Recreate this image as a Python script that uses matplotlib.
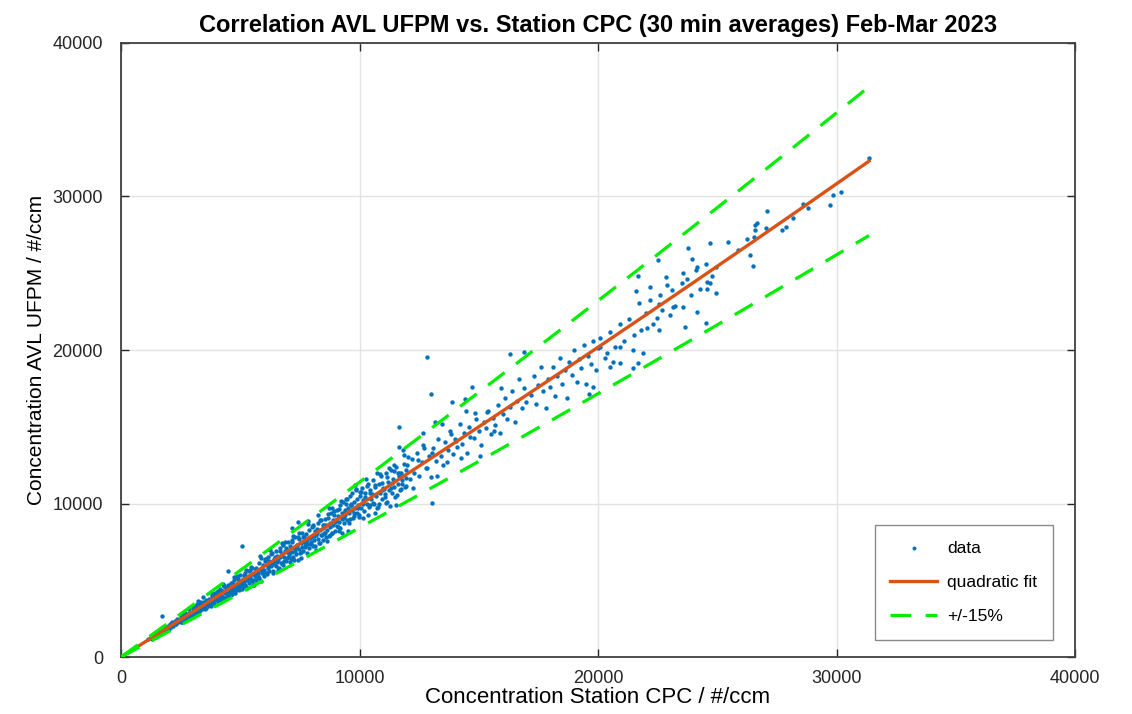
import matplotlib
matplotlib.use("Agg")
import matplotlib.pyplot as plt
import numpy as np

# AVL UFPM vs station CPC, 30 min averages (#/ccm)
station_cpc = [
    # 1000-3000
    1150, 1250, 1300, 1400, 1450, 1500, 1550, 1600, 1650, 1720, 1750, 1800, 1850,
    1900, 1950, 2000, 2050, 2100, 2150, 2200, 2250, 2300, 2350, 2400, 2450, 2500,
    2550, 2600, 2650, 2700, 2750, 2800, 2850, 2900, 2950, 3000, 3000,
    # 3000-6000
    3050, 3100, 3120, 3150, 3200, 3220, 3250, 3300, 3320, 3350, 3400, 3420, 3450,
    3480, 3500, 3550, 3580, 3600, 3650, 3680, 3700, 3750, 3780, 3800, 3850, 3880,
    3900, 3950, 3980, 4000, 4050, 4080, 4100, 4150, 4180, 4200, 4250, 4280, 4300,
    4350, 4380, 4400, 4450, 4480, 4500, 4550, 4580, 4600, 4650, 4680, 4700, 4750,
    4780, 4800, 4850, 4880, 4900, 4950, 4980, 5000, 5000, 5050, 5080, 5100, 5150,
    5180, 5200, 5250, 5280, 5300, 5350, 5380, 5400, 5450, 5480, 5500, 5550, 5580,
    5600, 5650, 5680, 5700, 5750, 5780, 5800, 5850, 5880, 5900, 5950, 5980,
    5070, 4490, 3230,
    # 6000-9000
    6000, 6050, 6080, 6100, 6150, 6180, 6200, 6250, 6280, 6300, 6350, 6380, 6400,
    6450, 6480, 6500, 6550, 6580, 6600, 6650, 6680, 6700, 6750, 6780, 6800, 6850,
    6880, 6900, 6950, 6980, 7000, 7050, 7080, 7100, 7150, 7180, 7200, 7250, 7280,
    7300, 7350, 7380, 7400, 7450, 7480, 7500, 7550, 7580, 7600, 7650, 7680, 7700,
    7750, 7780, 7800, 7850, 7880, 7900, 7950, 7980, 8000, 8050, 8080, 8100, 8150,
    8180, 8200, 8250, 8280, 8300, 8350, 8380, 8400, 8450, 8480, 8500, 8550, 8580,
    8600, 8650, 8680, 8700, 8750, 8780, 8800, 8850, 8880, 8900, 8950, 8980,
    7170, 7420,
    # 9000-12000
    9000, 9050, 9080, 9100, 9150, 9180, 9200, 9250, 9280, 9300, 9350, 9380, 9400,
    9450, 9480, 9500, 9550, 9580, 9600, 9650, 9680, 9700, 9750, 9780, 9800, 9850,
    9880, 9900, 9950, 9980, 10000, 10050, 10100, 10150, 10200, 10250, 10300, 10350,
    10400, 10450, 10500, 10550, 10600, 10650, 10700, 10750, 10800, 10850, 10900,
    10950, 11000, 11050, 11100, 11150, 11200, 11250, 11300, 11350, 11400, 11450,
    11500, 11550, 11600, 11650, 11700, 11750, 11800, 11850, 11900, 11950,
    11660, 11660, 12660, 13170, 13040,
    # 12000-16000
    12000, 12100, 12200, 12300, 12400, 12500, 12600, 12700, 12800, 12830, 12900,
    13000, 13000, 13100, 13200, 13300, 13400, 13500, 13600, 13700, 13800, 13900,
    14000, 14100, 14200, 14300, 14400, 14500, 14600, 14700, 14800, 14900, 15000,
    15100, 15200, 15300, 15400, 15500, 15600, 15700, 15800, 15900, 16000,
    13880, 14420,
    # 16000-20000
    16100, 16200, 16300, 16400, 16500, 16600, 16700, 16800, 16900, 17000, 16310,
    16900, 17200, 17300, 17400, 17500, 17600, 17700, 17800, 17900, 18000, 18100,
    18200, 18300, 18400, 18500, 18600, 18700, 18800, 18900, 19000, 19100, 19200,
    19300, 19400, 19500, 19600, 19700, 19800, 19900, 20000, 19790, 19620,
    # 20000-25000
    20100, 20300, 20500, 20700, 20900, 21100, 21300, 21500, 21594, 21678, 21720,
    21800, 22000, 22181, 22181, 22300, 22516, 22558, 22600, 22852, 22894, 23000,
    23104, 23229, 23523, 23565, 23565, 23648, 23733, 23774, 23900, 23942, 24110,
    24152, 24152, 24278, 24529, 24529, 24571, 24571, 24697, 24697, 24781, 24948,
    24948, 20085, 20923, 21468, 21888, 21678, 21468, 20630, 20923, 20378, 20504,
    22055, 22558, 22684, 22474, 23145,
    # 25000-31400
    25452, 25871, 26248, 26374, 26500, 26542, 26584, 26584, 26667, 27045, 27087,
    27716, 27883, 28177, 28596, 28806, 29728, 29855, 30190, 31364,
    # second pass over the dense band 2000-16000
    2130, 2270, 2380, 2520, 2630, 2760, 2870, 3030, 3140, 3270, 3390, 3460, 3530,
    3610, 3730, 3820, 3910, 4020, 4110, 4230, 4320, 4410, 4530, 4620, 4730, 4810,
    4920, 5030, 5120, 5230, 5330, 5420, 5530, 5640, 5720, 5830, 5920, 6030, 6130,
    6220, 6330, 6420, 6530, 6620, 6730, 6830, 6920, 7030, 7130, 7230, 7330, 7430,
    7530, 7630, 7730, 7830, 7930, 8030, 8130, 8230, 8330, 8430, 8530, 8630, 8730,
    8830, 8930, 9030, 9130, 9230, 9330, 9430, 9530, 9630, 9730, 9830, 9930, 10030,
    10130, 10230, 10330, 10430, 10530, 10630, 10730, 10830, 10930, 11030, 11130,
    11230, 11330, 11430, 11530, 11630, 11730, 11830, 11930, 12050, 12250, 12450,
    12650, 12850, 13050, 13250, 13450, 13650, 13850, 14050, 14250, 14450, 14650,
    14850, 15050, 15350, 15650, 15950,
    # third pass 3000-12000
    3080, 3180, 3290, 3370, 3440, 3570, 3660, 3760, 3860, 3960, 4060, 4160, 4260,
    4360, 4460, 4560, 4660, 4760, 4860, 4960, 5060, 5160, 5260, 5360, 5460, 5560,
    5660, 5760, 5860, 5960, 6060, 6160, 6260, 6360, 6460, 6560, 6660, 6760, 6860,
    6960, 7060, 7160, 7260, 7360, 7460, 7560, 7660, 7760, 7860, 7960, 8060, 8160,
    8260, 8360, 8460, 8560, 8660, 8760, 8860, 8960, 9060, 9160, 9260, 9360, 9460,
    9560, 9660, 9760, 9860, 9960, 10060, 10160, 10260, 10360, 10460, 10560, 10660,
    10760, 10860, 10960, 11060, 11160, 11260, 11360, 11460, 11560, 11660, 11760,
    11860, 11960,
]

avl_ufpm = [
    # 1000-3000
    1150, 1300, 1200, 1450, 1330, 1560, 1420, 1700, 1520, 2670, 1800, 1650, 1950,
    1780, 2050, 1850, 2150, 1960, 2300, 2000, 2350, 2120, 2500, 2250, 2330, 2600,
    2300, 2750, 2480, 2900, 2550, 2700, 3100, 2650, 2850, 3200, 2750,
    # 3000-6000
    3000, 3350, 2850, 3100, 3450, 2950, 3200, 3600, 3050, 3300, 3150, 3500, 3900,
    3250, 3400, 3700, 3200, 3550, 3350, 3800, 3500, 3650, 3300, 4000, 3600, 3850,
    3450, 4200, 3750, 3900, 3600, 4150, 3850, 4400, 3700, 4050, 4300, 3900, 4600,
    4150, 3850, 4400, 4200, 4700, 4000, 4450, 4250, 4850, 4100, 4550, 4350, 5000,
    4500, 4200, 4700, 5200, 4550, 4350, 4900, 4650, 5350, 4800, 4400, 5100, 4900,
    5500, 4700, 5200, 4500, 5000, 5600, 4850, 5300, 5100, 5800, 4950, 5400, 4700,
    5250, 5700, 5050, 5500, 5300, 6100, 5150, 5650, 4950, 5450, 6000, 5300,
    7230, 5600, 3650,
    # 6000-9000
    5700, 6250, 5500, 6000, 5800, 6500, 5600, 6150, 5900, 6700, 6050, 5500, 6400,
    6200, 6900, 5900, 6600, 6300, 5700, 6500, 7100, 6150, 6700, 6000, 7300, 6500,
    6900, 6250, 7000, 6450, 7500, 6700, 6200, 7200, 6850, 7600, 6500, 7100, 6900,
    7800, 6700, 7300, 6300, 7050, 7700, 6800, 7400, 7150, 8100, 6900, 7500, 7200,
    8000, 6800, 7600, 7350, 8300, 7100, 7800, 7500, 8500, 7250, 7900, 7600, 8200,
    7000, 8050, 7700, 8700, 7400, 8250, 7950, 8900, 7600, 8400, 8100, 9000, 7800,
    8600, 8300, 9300, 7900, 8700, 8450, 9400, 8100, 8900, 8600, 9500, 8200,
    8400, 8800,
    # 9000-12000
    8900, 9600, 8500, 9200, 8800, 9900, 8400, 9400, 9000, 10100, 8700, 9600, 9250,
    10300, 8900, 9700, 9400, 10500, 9000, 9900, 9550, 10700, 9200, 10100, 9700, 10900,
    9400, 10300, 9900, 9100, 10500, 9700, 11000, 10200, 9500, 10700, 10000, 11300,
    9800, 10900, 10300, 11500, 10000, 11100, 10500, 9700, 11300, 10700, 11800,
    10300, 11000, 10600, 12000, 10100, 11400, 10900, 12200, 10700, 11600, 11100,
    10400, 12400, 11300, 11800, 10900, 12000, 11500, 12600, 11100, 12200,
    14980, 13680, 14590, 15310, 10030,
    # 12000-16000
    12500, 11600, 12900, 12000, 13300, 11800, 12700, 13600, 12300, 19550, 13100,
    11700, 17130, 13600, 12800, 14200, 13100, 12500, 14000, 13500, 14700, 13200,
    14200, 13700, 15200, 13900, 14600, 13300, 15000, 17600, 14300, 15500, 14700,
    13800, 15300, 14900, 16000, 14500, 15600, 15100, 16400, 14600, 15800,
    16610, 16800,
    # 16000-20000
    16900, 15500, 16300, 17300, 15300, 16700, 18100, 16200, 17500, 16600, 19740,
    19870, 17100, 18300, 16500, 17700, 18900, 17300, 16200, 18100, 17600, 18900,
    17000, 18300, 19500, 17800, 18700, 16900, 19200, 18400, 20000, 17900, 19400,
    18800, 20300, 17800, 19600, 19100, 20600, 18700, 20100, 17590, 17130,
    # 20000-25000
    20800, 19500, 21200, 20200, 21700, 20600, 22000, 21000, 23845, 24822, 23063,
    21300, 22400, 24106, 23259, 21700, 25865, 22998, 23584, 24757, 24236, 22300,
    23910, 22868, 24366, 25018, 22803, 21500, 24627, 26646, 23584, 25930, 25213,
    25409, 22477, 23975, 25604, 21760, 24431, 23975, 24366, 26972, 24822, 25409,
    23715, 20197, 20197, 20000, 19806, 19154, 18828, 19220, 19154, 19806, 18894,
    21434, 21304, 22607, 22086, 22802,
    # 25000-31400
    27037, 26516, 27233, 26190, 25500, 27363, 28145, 27819, 28275, 27949, 29057,
    27819, 28015, 28601, 29513, 29252, 29448, 30099, 30295, 32510,
    # second pass over the dense band 2000-16000
    2208, 2151, 2353, 2268, 2797, 2559, 2896, 2954, 2868, 3434, 3259, 3539, 3129,
    3618, 3484, 4115, 3785, 4255, 3625, 4270, 4615, 4149, 4528, 4030, 5238, 4384,
    5063, 4929, 4566, 5689, 5119, 5684, 4715, 5748, 5269, 6570, 5744, 6382, 5407,
    6278, 6762, 6040, 6527, 5774, 7453, 6225, 7121, 6925, 6391, 7905, 7076, 7831,
    6453, 7816, 7157, 8870, 7733, 8543, 7207, 8350, 8943, 7972, 8570, 7566, 9717,
    8089, 9236, 8940, 8225, 10143, 9052, 9990, 8208, 9915, 9055, 11192, 9733, 10724,
    9026, 10432, 11147, 9913, 10634, 9366, 12004, 9971, 11362, 10920, 10027,
    12341, 10993, 12108, 9931, 11975, 10916, 13469, 11693, 13014, 11025, 12824,
    13789, 12336, 13311, 11793, 15199, 12695, 14543, 14050, 12968, 16040, 14357,
    15890, 13094, 15964, 14711, 17545,
    # third pass 3000-12000
    2904, 3237, 2944, 3315, 3596, 3293, 3676, 3597, 4088, 3706, 4297, 4036, 4760,
    3846, 4502, 4290, 4841, 4292, 5287, 4861, 4711, 5360, 4536, 5305, 5886, 5013,
    5769, 5476, 6432, 5491, 6414, 5977, 6994, 5610, 6521, 6172, 6919, 6095, 7463,
    6821, 6606, 7476, 6293, 7322, 8083, 6851, 7847, 7415, 8671, 7371, 8574, 7957,
    9275, 7411, 8583, 8095, 9042, 7938, 9687, 8826, 8521, 9612, 8067, 9359, 10302,
    8707, 9946, 9372, 10933, 9269, 10756, 9958, 11579, 9231, 10666, 10036, 11187,
    9800, 11934, 10850, 10402, 11711, 9810, 11359, 12480, 10529, 12005, 11293,
    13150, 11130,
]

# quadratic fit y = a*x^2 + b*x + c as shown on the chart, and its +/- band
fit_coef = [1.85e-6, 0.972, 0.0]
band = 0.15

x = np.array(station_cpc, dtype=float)
y = np.array(avl_ufpm, dtype=float)
xf = np.linspace(0, x.max(), 200)
yf = np.polyval(fit_coef, xf)

plt.rcParams['font.family'] = ['Liberation Sans', 'DejaVu Sans']

fig = plt.figure(figsize=(11.32, 7.14), dpi=100)
ax = fig.add_axes([0.1069, 0.0798, 0.8428, 0.86])

ax.scatter(x, y, s=10, color='#0072BD', linewidths=0, label='data', zorder=2)
ax.plot(xf, yf, color='#D95319', lw=2.4, label='quadratic fit', zorder=3)
ax.plot(xf, yf * (1 + band), color='#00EE00', lw=2.3, dashes=(6.5, 4.5),
        label='+/-15%', zorder=4)
ax.plot(xf, yf * (1 - band), color='#00EE00', lw=2.3, dashes=(6.5, 4.5), zorder=4)

ax.set_xlim(0, 40000)
ax.set_ylim(0, 40000)
ax.set_xticks([0, 10000, 20000, 30000, 40000])
ax.set_yticks([0, 10000, 20000, 30000, 40000])
ax.grid(True, color='#E3E3E3', lw=1)
ax.set_axisbelow(True)
ax.tick_params(direction='in', top=True, right=True, length=6, width=1,
               labelsize=13, colors='#262626')
ax.tick_params(axis='x', pad=9)
ax.tick_params(axis='y', pad=13)
for sp in ax.spines.values():
    sp.set_color('#404040')
    sp.set_linewidth(1.3)

ax.set_title('Correlation AVL UFPM vs. Station CPC (30 min averages) Feb-Mar 2023',
             fontsize=17, fontweight='bold', pad=8)
ax.set_xlabel('Concentration Station CPC / #/ccm', fontsize=16, labelpad=0)
ax.set_ylabel('Concentration AVL UFPM / #/ccm', fontsize=15, labelpad=5)

leg = ax.legend(loc='lower right', bbox_to_anchor=(0.977, 0.028), borderaxespad=0,
                handlelength=2.7, handletextpad=0.6, labelspacing=1.1,
                borderpad=0.9, markerscale=0.9, fancybox=False, framealpha=1,
                prop={'size': 12.5})
leg.get_frame().set_edgecolor('#8A8A8A')

fig.savefig('out.png', dpi=100)
